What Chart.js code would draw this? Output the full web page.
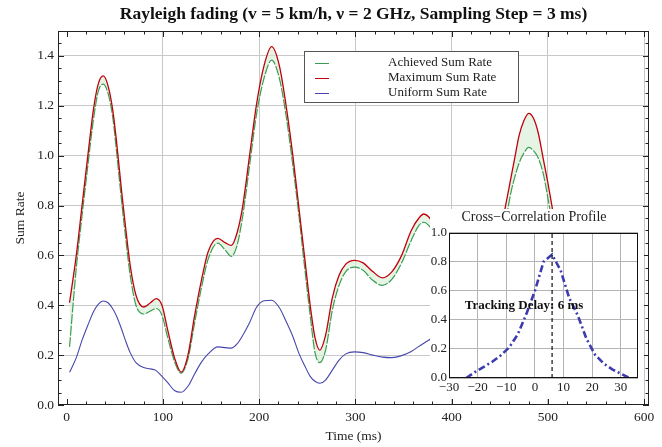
<!DOCTYPE html>
<html lang="en">
<head>
  <meta charset="UTF-8">
  <title>Rayleigh fading - Sum Rate</title>
  <script src="https://cdn.jsdelivr.net/npm/chart.js"></script>
  <style>
    * { box-sizing: border-box; margin: 0; padding: 0; }
    body { background: #fff; width: 662px; height: 447px; overflow: hidden; }
    .wrap { position: relative; width: 662px; height: 447px; }
    #mainChart { position: absolute; left: 0; top: 0; }
    #insetChart { position: absolute; left: 430px; top: 209px; background: #fff; }
  </style>
</head>
<body>
  <div class="wrap">
    <canvas id="mainChart" width="662" height="447"></canvas>
    <canvas id="insetChart" width="214" height="190"></canvas>
  </div>

  <script>
    // Main plot data (time in ms)
    const timeMs = [3, 10, 16, 22, 28, 33, 38, 43, 48, 52, 57, 61, 66, 72, 80, 87, 93, 99, 105, 112,
      119, 126, 133, 140, 147, 157, 165, 171, 177, 183, 190, 197, 205, 213, 221, 228, 235, 241, 247, 253,
      258, 263, 269, 276, 283, 290, 299, 308, 318, 328, 338, 348, 358, 366, 371, 376, 385, 395, 405, 415,
      425, 435, 445, 455, 462, 466, 470, 475, 480, 485, 490, 495, 500, 505, 515, 525, 535, 545, 555, 565,
      575, 585, 597];

    const maxRate = [0.41, 0.60, 0.80, 1.00, 1.19, 1.29, 1.32, 1.28, 1.18, 1.05, 0.86, 0.72, 0.56, 0.44, 0.393, 0.41, 0.427, 0.40, 0.30, 0.19,
      0.132, 0.20, 0.36, 0.50, 0.615, 0.668, 0.65, 0.64, 0.69, 0.80, 1.00, 1.20, 1.36, 1.437, 1.36, 1.20, 1.00, 0.80, 0.60, 0.40,
      0.27, 0.22, 0.28, 0.43, 0.52, 0.565, 0.58, 0.57, 0.535, 0.51, 0.535, 0.60, 0.70, 0.75, 0.766, 0.755, 0.70, 0.58, 0.46, 0.38,
      0.38, 0.45, 0.60, 0.78, 0.92, 1.00, 1.08, 1.14, 1.17, 1.15, 1.09, 0.99, 0.89, 0.78, 0.58, 0.42, 0.35, 0.36, 0.42, 0.48,
      0.50, 0.47, 0.42];

    const achievedRate = [0.233, 0.55, 0.76, 0.96, 1.15, 1.26, 1.287, 1.25, 1.15, 1.01, 0.82, 0.68, 0.52, 0.40, 0.365, 0.377, 0.387, 0.36, 0.27, 0.175,
      0.128, 0.185, 0.33, 0.47, 0.585, 0.649, 0.62, 0.596, 0.64, 0.76, 0.96, 1.16, 1.31, 1.383, 1.31, 1.16, 0.96, 0.77, 0.56, 0.36,
      0.21, 0.17, 0.22, 0.38, 0.48, 0.535, 0.553, 0.54, 0.50, 0.48, 0.505, 0.57, 0.66, 0.72, 0.733, 0.72, 0.66, 0.55, 0.44, 0.36,
      0.36, 0.43, 0.57, 0.72, 0.86, 0.92, 0.97, 1.01, 1.033, 1.02, 0.99, 0.93, 0.83, 0.72, 0.55, 0.40, 0.33, 0.34, 0.40, 0.46,
      0.48, 0.45, 0.40];

    const uniformRate = [0.131, 0.19, 0.26, 0.32, 0.375, 0.405, 0.417, 0.41, 0.385, 0.355, 0.305, 0.26, 0.21, 0.17, 0.15, 0.145, 0.138, 0.115, 0.09, 0.058,
      0.051, 0.075, 0.125, 0.172, 0.205, 0.233, 0.23, 0.228, 0.245, 0.28, 0.33, 0.39, 0.418, 0.42, 0.39, 0.335, 0.275, 0.21, 0.16, 0.115,
      0.095, 0.087, 0.10, 0.14, 0.18, 0.205, 0.213, 0.21, 0.20, 0.192, 0.19, 0.198, 0.215, 0.235, 0.248, 0.26, 0.28, 0.29, 0.28, 0.25,
      0.22, 0.21, 0.24, 0.29, 0.33, 0.35, 0.36, 0.37, 0.37, 0.36, 0.34, 0.32, 0.29, 0.26, 0.21, 0.17, 0.15, 0.16, 0.19, 0.22,
      0.23, 0.22, 0.20];

    // Inset: cross-correlation profile
    const lagMs = [-24, -21, -18, -15, -12, -9, -6, -3, 0, 3, 6, 9, 12, 15, 18, 21, 24, 27, 30, 33];
    const crossCorr = [0.0, 0.04, 0.075, 0.11, 0.155, 0.21, 0.30, 0.44, 0.60, 0.80, 0.85, 0.74, 0.55, 0.43, 0.27, 0.16, 0.10, 0.06, 0.03, 0.0];
    const trackingDelay = 6;

    // tick values
    const timeTicks = [0, 100, 200, 300, 400, 500, 600];
    const rateTicks = [0, 0.2, 0.4, 0.6, 0.8, 1.0, 1.2, 1.4];
    const lagTicks = [-30, -20, -10, 0, 10, 20, 30];
    const corrTicks = [0, 0.2, 0.4, 0.6, 0.8, 1.0];

    const SERIF = "'Liberation Serif', 'Times New Roman', serif";
    const GREEN = '#3a9e52';
    const RED = '#c0000a';
    const BLUE = '#4646ad';

    const pts = (ys) => timeMs.map((t, i) => ({ x: t, y: ys[i] }));
    const setTicks = (vals) => (s) => { s.ticks = vals.map(v => ({ value: v })); };

    // frame + inward ticks, Mathematica style
    const frameTicks = {
      id: 'frameTicks',
      afterDatasetsDraw(chart) {
        const { ctx, chartArea: a, scales: { x, y } } = chart;
        ctx.save();
        ctx.strokeStyle = '#222';
        ctx.lineWidth = 1;
        ctx.beginPath();
        for (let v = 0; v <= 600; v += 20) {
          const px = Math.round(x.getPixelForValue(v)) + 0.5;
          const len = v % 100 === 0 ? 6 : 3.5;
          ctx.moveTo(px, a.bottom); ctx.lineTo(px, a.bottom - len);
          ctx.moveTo(px, a.top); ctx.lineTo(px, a.top + len);
        }
        for (let i = 0; i <= 29; i++) {
          const py = Math.round(y.getPixelForValue(i * 0.05)) + 0.5;
          const len = i % 4 === 0 ? 6 : 3.5;
          ctx.moveTo(a.left, py); ctx.lineTo(a.left + len, py);
          ctx.moveTo(a.right, py); ctx.lineTo(a.right - len, py);
        }
        ctx.stroke();
        ctx.strokeRect(Math.round(a.left) + 0.5, Math.round(a.top) + 0.5,
          Math.round(a.width) - 1, Math.round(a.height) - 1);
        ctx.restore();
      }
    };

    // legend box inside the plot
    const boxLegend = {
      id: 'boxLegend',
      afterDraw(chart) {
        const ctx = chart.ctx;
        const bx = 304, by = 51, bw = 214, bh = 51;
        ctx.save();
        ctx.fillStyle = '#fff';
        ctx.fillRect(bx, by, bw, bh);
        ctx.strokeStyle = '#555';
        ctx.lineWidth = 1;
        ctx.strokeRect(bx + 0.5, by + 0.5, bw, bh);
        ctx.font = '13px ' + SERIF;
        ctx.textBaseline = 'middle';
        ctx.textAlign = 'left';
        chart.data.datasets.forEach((ds, i) => {
          const ry = by + 12 + i * 15;
          ctx.strokeStyle = ds.borderColor;
          ctx.lineWidth = 1;
          ctx.beginPath();
          ctx.moveTo(bx + 11, ry + 0.5);
          ctx.lineTo(bx + 25, ry + 0.5);
          ctx.stroke();
          ctx.fillStyle = '#222';
          ctx.fillText(ds.label, bx + 84, ry);
        });
        ctx.restore();
      }
    };

    new Chart(document.getElementById('mainChart'), {
      type: 'line',
      data: {
        datasets: [
          {
            label: 'Achieved Sum Rate',
            data: pts(achievedRate),
            borderColor: GREEN,
            borderWidth: 1.2,
            borderDash: [10, 1.5],
            backgroundColor: 'rgba(214, 236, 214, 0.6)',
            fill: 1,
            order: 2
          },
          {
            label: 'Maximum Sum Rate',
            data: pts(maxRate),
            borderColor: RED,
            borderWidth: 1.3,
            fill: false,
            order: 1
          },
          {
            label: 'Uniform Sum Rate',
            data: pts(uniformRate),
            borderColor: BLUE,
            borderWidth: 1.1,
            fill: false,
            order: 3
          }
        ]
      },
      options: {
        responsive: false,
        animation: false,
        layout: { padding: { left: 0, right: 13, top: 0, bottom: 0 } },
        elements: {
          point: { radius: 0 },
          line: { cubicInterpolationMode: 'monotone' }
        },
        plugins: {
          legend: { display: false },
          tooltip: { enabled: false },
          title: {
            display: true,
            fullSize: false,
            text: 'Rayleigh fading (v = 5 km/h, ν = 2 GHz, Sampling Step = 3 ms)',
            font: { family: SERIF, size: 17.5, weight: 'bold' },
            color: '#111',
            padding: { top: 4, bottom: 6 }
          }
        },
        scales: {
          x: {
            type: 'linear',
            min: -9,
            max: 605,
            afterBuildTicks: setTicks(timeTicks),
            afterFit: (s) => { s.height = 42; },
            border: { display: false },
            grid: {
              drawTicks: false,
              color: (c) => (c.tick && c.tick.value === 0) ? 'rgba(0,0,0,0)' : '#c8c8c8'
            },
            ticks: { padding: 4, maxRotation: 0, color: '#222', font: { family: SERIF, size: 13.5 } },
            title: {
              display: true,
              text: 'Time (ms)',
              color: '#222',
              font: { family: SERIF, size: 13.5 },
              padding: { top: 0, bottom: 2 }
            }
          },
          y: {
            min: 0,
            max: 1.5,
            afterBuildTicks: setTicks(rateTicks),
            afterFit: (s) => { s.width = 58; },
            border: { display: false },
            grid: {
              drawTicks: false,
              color: (c) => (c.tick && c.tick.value === 0) ? 'rgba(0,0,0,0)' : '#c8c8c8'
            },
            ticks: { padding: 4, color: '#222', font: { family: SERIF, size: 13.5 }, callback: (v) => v.toFixed(1) },
            title: {
              display: true,
              text: 'Sum Rate',
              color: '#222',
              font: { family: SERIF, size: 13.5 },
              padding: { top: 12, bottom: 0 }
            }
          }
        }
      },
      plugins: [frameTicks, boxLegend]
    });

    // inset frame and tracking-delay label
    const insetFrame = {
      id: 'insetFrame',
      afterDatasetsDraw(chart) {
        const { ctx, chartArea: a, scales: { x, y } } = chart;
        ctx.save();
        ctx.strokeStyle = '#111';
        ctx.lineWidth = 1;
        ctx.strokeRect(Math.round(a.left) + 0.5, Math.round(a.top) + 0.5,
          Math.round(a.width) - 1, Math.round(a.height) - 1);
        ctx.font = 'bold 13px ' + SERIF;
        ctx.fillStyle = '#111';
        ctx.textAlign = 'center';
        ctx.textBaseline = 'middle';
        ctx.fillText('Tracking Delay: ' + trackingDelay + ' ms', x.getPixelForValue(-3.8), y.getPixelForValue(0.5));
        ctx.restore();
      }
    };

    new Chart(document.getElementById('insetChart'), {
      type: 'line',
      data: {
        datasets: [
          {
            data: lagMs.map((l, i) => ({ x: l, y: crossCorr[i] })),
            borderColor: '#3c3caf',
            borderWidth: 2.6,
            borderDash: [7, 3, 2, 3],
            tension: 0,
            order: 2
          },
          {
            data: [{ x: trackingDelay, y: 0 }, { x: trackingDelay, y: 1 }],
            borderColor: '#111',
            borderWidth: 1.2,
            borderDash: [4, 3],
            order: 1
          }
        ]
      },
      options: {
        responsive: false,
        animation: false,
        layout: { padding: { left: 0, right: 6, top: 0, bottom: 0 } },
        elements: { point: { radius: 0 } },
        plugins: {
          legend: { display: false },
          tooltip: { enabled: false },
          title: {
            display: true,
            text: 'Cross\u2212Correlation Profile',
            font: { family: SERIF, size: 14, weight: 'normal' },
            color: '#222',
            padding: { top: 0, bottom: 7 }
          }
        },
        scales: {
          x: {
            type: 'linear',
            min: -30,
            max: 36,
            afterBuildTicks: setTicks(lagTicks),
            afterFit: (s) => { s.height = 21; },
            border: { display: false },
            grid: { drawTicks: false, color: '#b4b4b4' },
            ticks: {
              padding: 2, maxRotation: 0, color: '#222',
              font: { family: SERIF, size: 13 },
              callback: (v) => v < 0 ? '\u2212' + (-v) : String(v)
            }
          },
          y: {
            min: 0,
            max: 1,
            afterBuildTicks: setTicks(corrTicks),
            afterFit: (s) => { s.width = 19; },
            border: { display: false },
            grid: { drawTicks: false, color: '#b4b4b4' },
            ticks: { padding: 2, color: '#222', font: { family: SERIF, size: 13 }, callback: (v) => v.toFixed(1) }
          }
        }
      },
      plugins: [insetFrame]
    });
  </script>
</body>
</html>
